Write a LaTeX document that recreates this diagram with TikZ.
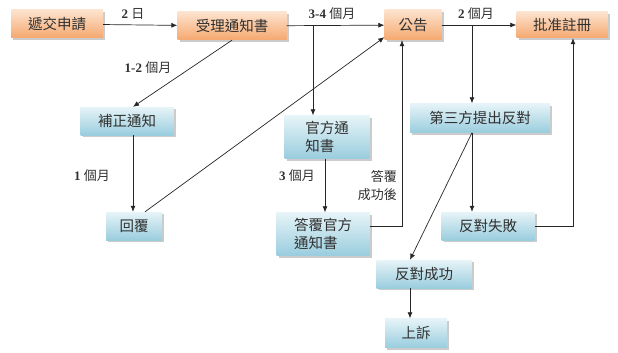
\documentclass[tikz,border=0pt]{standalone}
\usepackage{fontspec}
\setmainfont{Liberation Serif}
\newfontfamily\cjk{Noto Sans CJK TC}
\usetikzlibrary{shadows,arrows.meta}
\definecolor{otop}{HTML}{FDE3CE}
\definecolor{obot}{HTML}{F5A86F}
\definecolor{btop}{HTML}{E6F4F8}
\definecolor{bbot}{HTML}{9ACDDE}
\definecolor{txt}{HTML}{303030}
\tikzset{
  basebox/.style={rectangle, inner sep=2pt, text=txt, font=\cjk\fontsize{14.5}{18}\selectfont,
    drop shadow={shadow xshift=2pt, shadow yshift=-2pt, fill=black!45, opacity=.45}},
  obox/.style={basebox, top color=otop, bottom color=obot},
  bbox/.style={basebox, top color=btop, bottom color=bbot},
  conn/.style={draw=black!85, line width=0.7pt, -{Latex[length=6pt,width=5pt]}},
  lab/.style={font=\fontsize{13}{16}\selectfont, text=txt, inner sep=1pt}
}
\newcommand\cj[1]{{\cjk #1}}
\begin{document}
\begin{tikzpicture}[x=1pt,y=-1pt]
\useasboundingbox (0,0) rectangle (618,353);
% orange boxes
\node[obox, minimum width=92pt, minimum height=28pt] (dj) at (57,24) {遞交申請};
\node[obox, minimum width=109pt, minimum height=28pt] (sl) at (232,26) {受理通知書};
\node[obox, minimum width=57pt, minimum height=30pt] (gg) at (413,25) {公告};
\node[obox, minimum width=91pt, minimum height=26pt] (pz) at (562,25) {批准註冊};
% blue boxes
\node[bbox, minimum width=93pt, minimum height=28pt] (bz) at (127,121) {補正通知};
\node[bbox, minimum width=56pt, minimum height=28pt] (hf) at (134,226) {回覆};
\node[bbox, minimum width=85pt, minimum height=43pt, align=left] (gf) at (327,137) {官方通\\知書};
\node[bbox, minimum width=93pt, minimum height=43pt, align=left] (df) at (323,234) {答覆官方\\通知書};
\node[bbox, minimum width=140pt, minimum height=29pt] (ds) at (480,118) {第三方提出反對};
\node[bbox, minimum width=93pt, minimum height=28pt] (sb) at (488,226) {反對失敗};
\node[bbox, minimum width=95pt, minimum height=28pt] (cg) at (424,274) {反對成功};
\node[bbox, minimum width=62pt, minimum height=29pt] (ss) at (416,333) {上訴};
% connectors
\draw[conn] (dj) -- (sl);
\draw[conn] (sl) -- (gg);
\draw[conn] (gg) -- (pz);
\coordinate (c1) at (313,26);
\coordinate (c2) at (472,25);
\draw[conn] (c1) -- (c1 |- gf.north);
\draw[conn] (c2) -- (c2 |- ds.north);
\draw[conn] (sl.south) -- ([xshift=6pt]bz.north);
\draw[conn] ([xshift=6pt]bz.south) -- ([xshift=6pt]bz.south |- hf.north);
\draw[conn] ([xshift=11pt]hf.north) -- ([yshift=3pt]gg.south west);
\draw[conn] ([xshift=-2pt]gf.south) -- ([xshift=-2pt]gf.south |- df.north);
\coordinate (c3) at (402,226);
\draw[conn] (df.east |- c3) -- (c3) -- (c3 |- gg.south);
\draw[conn] ([xshift=-8pt]ds.south) -- ([xshift=-8pt]ds.south |- sb.north);
\draw[conn] ([xshift=-8pt]ds.south) -- ([xshift=-14pt]cg.north);
\coordinate (c4) at (573,226);
\draw[conn] (sb.east) -- (c4) -- (c4 |- pz.south);
\draw[conn] ([xshift=-14pt]cg.south) -- ([xshift=-6pt]ss.north);
% labels
\node[lab] (l1) at (133,14) {\textbf{2} \cj{日}};
\node[lab] (l2) at (332,14) {\textbf{3-4} \cj{個月}};
\node[lab] (l3) at (476,14) {\textbf{2} \cj{個月}};
\node[lab] (l4) at (148,68) {\textbf{1-2} \cj{個月}};
\node[lab] (l5) at (92,176) {\textbf{1} \cj{個月}};
\node[lab] (l6) at (297,176) {\textbf{3} \cj{個月}};
\node[lab, align=right, anchor=east, font=\cjk\fontsize{13}{18}\selectfont] (l7) at (398,186) {答覆\\成功後};
\end{tikzpicture}
\end{document}
